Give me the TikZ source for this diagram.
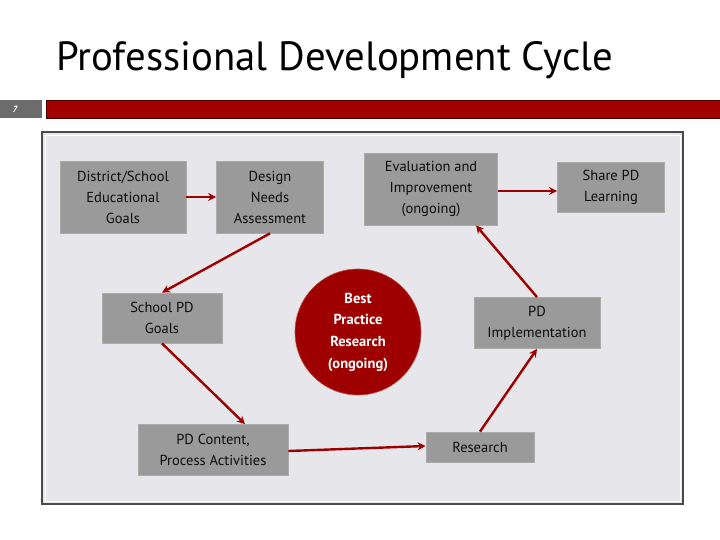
\documentclass[tikz,border=0pt]{standalone}
\usepackage{fontspec}
\setmainfont{PT Sans}
\usetikzlibrary{arrows.meta}
\definecolor{panelfill}{HTML}{E7E7EB}
\definecolor{panelborder}{HTML}{4A4A4A}
\definecolor{boxfill}{HTML}{9A9A9A}
\definecolor{boxedge}{HTML}{ABABAB}
\definecolor{darkred}{HTML}{9E0000}
\definecolor{barred}{HTML}{A30000}
\definecolor{numgray}{HTML}{6C6C6C}
\tikzset{
  gbox/.style={draw=boxedge, line width=0.8pt, fill=boxfill, align=center, inner sep=0pt, text=black!95, font=\fontsize{14.5}{21}\selectfont},
  flow/.style={draw=darkred, line width=2.4pt, -{Stealth[length=8pt,width=8pt]}},
}
\begin{document}
\begin{tikzpicture}[x=1pt,y=-1pt]
\useasboundingbox (0,0) rectangle (720,540);
\fill[white] (0,0) rectangle (720,540);
% title
\node[anchor=west, inner sep=0pt, font=\fontsize{40.8}{44}\selectfont, text=black] (title) at (56,60) {Professional Development Cycle};
% slide number bar
\fill[numgray] (0,100) rectangle (42,118);
\node[text=white, font=\fontsize{9}{10}\selectfont\itshape\bfseries] (num) at (15,109) {7};
\fill[barred, draw=black!50!barred, line width=0.8pt] (46,100) rectangle (722,118);
% panel
\draw[fill=panelfill, draw=panelborder, line width=2.2pt] (42,132) rectangle (683,504);
\draw[white, line width=0.6pt] (45,135) rectangle (680,501);
% nodes
\node[gbox, minimum width=126pt, minimum height=72pt] (dist) at (123,197) {District/School\\Educational\\Goals};
\node[gbox, minimum width=107pt, minimum height=72pt] (design) at (270,197) {Design\\Needs\\Assessment};
\node[gbox, minimum width=133pt, minimum height=72pt] (eval) at (431,189) {Evaluation and\\Improvement\\(ongoing)};
\node[gbox, minimum width=107pt, minimum height=50pt] (share) at (611,187) {Share PD\\Learning};
\node[gbox, minimum width=120pt, minimum height=50pt] (school) at (162,318) {School PD\\Goals};
\node[circle, fill=darkred, draw=barred!70!white, line width=0.6pt, minimum size=126pt, inner sep=0pt, align=center, text=white, font=\fontsize{14.5}{21.7}\selectfont\bfseries] (best) at (358,332) {Best\\Practice\\Research\\(ongoing)};
\node[gbox, minimum width=126pt, minimum height=51pt] (impl) at (537,323) {PD\\Implementation};
\node[gbox, minimum width=108pt, minimum height=30pt] (research) at (480,447) {Research};
\node[gbox, minimum width=150pt, minimum height=51pt] (content) at (213,450) {PD Content,\\Process Activities};
% connectors
\draw[flow] (dist.east) -- (design.west);
\draw[flow] (design.south) -- (school.north);
\draw[flow] (school.south) -- (content.north -| 245,0);
\draw[flow] (content.east |- 0,451) -- (research.west |- 0,446);
\draw[flow] (research.north) -- (impl.south);
\draw[flow] (impl.north) -- (eval.south -| 476,0);
\draw[flow] (eval.east |- 0,191) -- (share.west |- 0,191);
\end{tikzpicture}
\end{document}
